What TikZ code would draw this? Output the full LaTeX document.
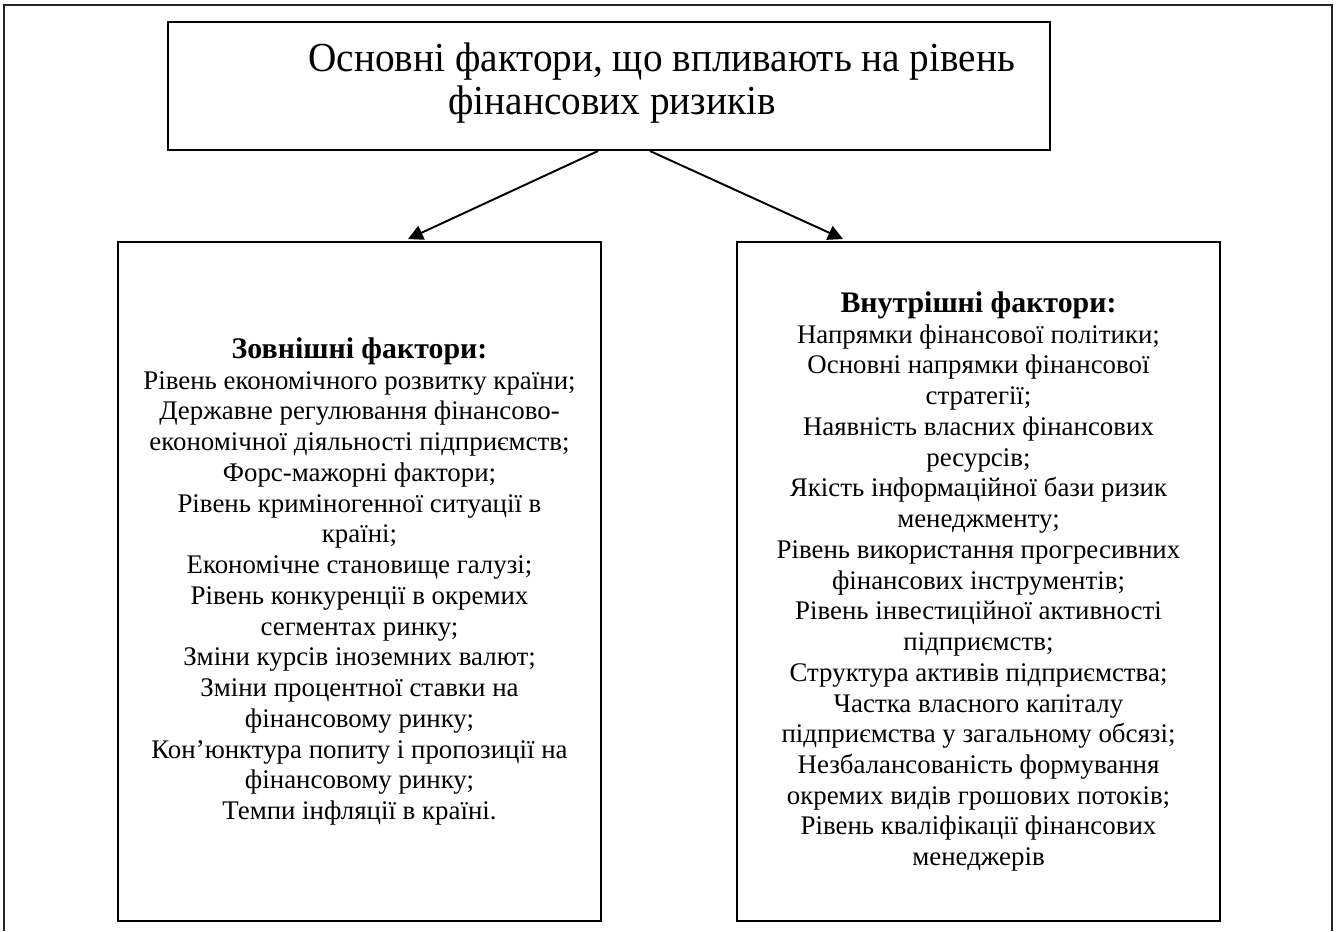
\documentclass[tikz,border=0pt]{standalone}
\usepackage{fontspec}
\setmainfont{Liberation Serif}
\newfontfamily\titlefont[FakeStretch=0.95]{Liberation Serif}
\usepackage{tikz}
\usetikzlibrary{arrows.meta, positioning, calc}

\begin{document}
\begin{tikzpicture}[x=0.02cm, y=-0.02cm, >={Triangle[length=8.5pt, width=8.5pt]},
  box/.style={draw, line width=1.2pt, rectangle, align=center, inner sep=0pt},
  arr/.style={->, line width=1.1pt},
  headfont/.style={font=\titlefont\fontsize{23.5}{24.5}\selectfont},
  itemfont/.style={font=\fontsize{15.3}{17.5}\selectfont}]

\useasboundingbox (0,0) rectangle (1336,931);

% Outer frame
\draw[line width=1.4pt, black!85] (4,931) -- (4,5) -- (1332,5) -- (1332,931);

% Title box
\node[box, minimum width=17.64cm, minimum height=2.56cm] (title) at (609,86) {};
\node[headfont, align=center, inner sep=0pt] (titletext) at (610,83)
  {\hspace*{59pt}Основні фактори, що впливають на рівень\\
   \hspace*{2.3pt}фінансових ризиків};

% External factors
\node[box, itemfont, minimum width=9.66cm, minimum height=13.58cm] (outer) at (359.5,581.5)
  {\textbf{\fontsize{17}{17.5}\selectfont Зовнішні фактори:}\\
   Рівень економічного розвитку країни;\\
   Державне регулювання фінансово-\\
   економічної діяльності підприємств;\\
   Форс-мажорні фактори;\\
   Рівень криміногенної ситуації в\\
   країні;\\
   Економічне становище галузі;\\
   Рівень конкуренції в окремих\\
   сегментах ринку;\\
   Зміни курсів іноземних валют;\\
   Зміни процентної ставки на\\
   фінансовому ринку;\\
   Кон’юнктура попиту і пропозиції на\\
   фінансовому ринку;\\
   Темпи інфляції в країні.};

% Internal factors
\node[box, itemfont, minimum width=9.66cm, minimum height=13.58cm] (inner) at (978.5,581.5)
  {\textbf{\fontsize{17}{17.5}\selectfont Внутрішні фактори:}\\
   Напрямки фінансової політики;\\
   Основні напрямки фінансової\\
   стратегії;\\
   Наявність власних фінансових\\
   ресурсів;\\
   Якість інформаційної бази ризик\\
   менеджменту;\\
   Рівень використання прогресивних\\
   фінансових інструментів;\\
   Рівень інвестиційної активності\\
   підприємств;\\
   Структура активів підприємства;\\
   Частка власного капіталу\\
   підприємства у загальному обсязі;\\
   Незбалансованість формування\\
   окремих видів грошових потоків;\\
   Рівень кваліфікації фінансових\\
   менеджерів};

% Arrows
\draw[arr] ($(title.south)+(-11,0)$) -- ($(outer.north)+(48.5,-2)$);
\draw[arr] ($(title.south)+(41,0)$) -- ($(inner.north)+(-135.5,-2)$);

\end{tikzpicture}
\end{document}
